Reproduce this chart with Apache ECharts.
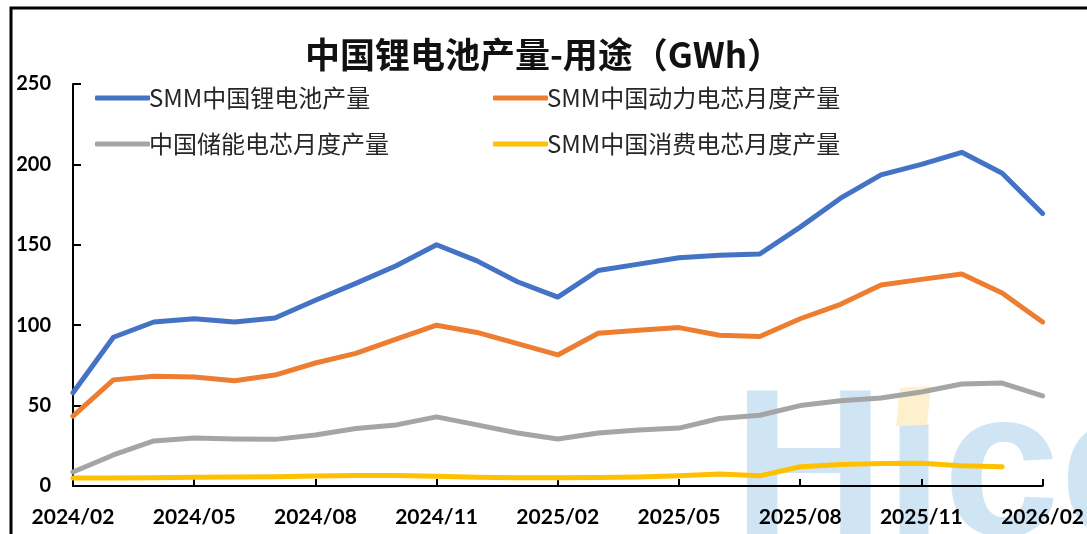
<!DOCTYPE html>
<html>
<head>
<meta charset="utf-8">
<title>中国锂电池产量-用途（GWh）</title>
<script src="https://cdn.jsdelivr.net/npm/echarts@6/dist/echarts.min.js"></script>
<style>
  html, body { margin: 0; padding: 0; background: #ffffff; }
  #chart { width: 1087px; height: 534px; }
</style>
</head>
<body>
<div id="chart"></div>
<script>
// Monthly lithium battery output in China by application, GWh
const months = [
  '2024/02', '2024/03', '2024/04', '2024/05', '2024/06', '2024/07', '2024/08', '2024/09',
  '2024/10', '2024/11', '2024/12', '2025/01', '2025/02', '2025/03', '2025/04', '2025/05',
  '2025/06', '2025/07', '2025/08', '2025/09', '2025/10', '2025/11', '2025/12', '2026/01', '2026/02'
];
const totalOutput = [58, 92.5, 102, 104, 102, 104.5, 115.5, 126, 137, 150, 140, 127, 117.5,
  134, 138, 142, 143.5, 144.3, 161, 179, 193.5, 200, 207.5, 194.5, 169.5];
const powerCells = [43.5, 66, 68.3, 67.8, 65.5, 69, 76.5, 82.5, 91.3, 100, 95.5, 88.5, 81.5,
  95, 96.8, 98.5, 93.8, 93, 104, 113, 125, 128.5, 131.8, 120, 102];
const storageCells = [8.7, 19.3, 28, 29.8, 29.2, 29, 31.7, 35.8, 38, 43, 38, 33, 29.2,
  33, 34.8, 36, 42, 44, 50, 53, 54.7, 58.5, 63.4, 64, 56];
const consumerCells = [5, 5, 5.2, 5.4, 5.6, 5.8, 6.2, 6.5, 6.5, 6, 5.5, 5.2, 5.2,
  5.3, 5.6, 6.3, 7.5, 6.3, 12, 13.3, 14, 14.2, 12.6, 12, null];
const yTicks = { min: 0, max: 250, step: 50 };

const seriesNames = ['SMM中国锂电池产量', 'SMM中国动力电芯月度产量', '中国储能电芯月度产量', 'SMM中国消费电芯月度产量'];
const seriesColors = ['#4472C4', '#ED7D31', '#A5A5A5', '#FFC000'];
const seriesData = [totalOutput, powerCells, storageCells, consumerCells];

const cjk = '"Noto Sans CJK SC", "Noto Sans", sans-serif';
const num = 'Lato, "Liberation Sans", sans-serif';

const chart = echarts.init(document.getElementById('chart'), null, { renderer: 'canvas' });

const legendCommon = {
  orient: 'vertical',
  icon: 'roundRect',
  itemWidth: 55,
  itemHeight: 5,
  itemGap: 22,
  textStyle: { fontFamily: cjk, fontSize: 24, color: '#262626', padding: [0, 0, 0, -6] },
  top: 81
};

chart.setOption({
  animation: false,
  backgroundColor: '#ffffff',
  title: {
    text: '中国锂电池产量-用途（GWh）',
    left: 'center',
    top: 32,
    textStyle: { fontFamily: cjk, fontSize: 35, fontWeight: 'bold', color: '#111111' }
  },
  legend: [
    Object.assign({}, legendCommon, { left: 90, data: [seriesNames[0], seriesNames[2]] }),
    Object.assign({}, legendCommon, { left: 488, data: [seriesNames[1], seriesNames[3]] })
  ],
  grid: { left: 73, right: 42, top: 84, bottom: 48 },
  xAxis: {
    type: 'category',
    data: months,
    boundaryGap: false,
    axisLine: { lineStyle: { color: '#000000', width: 2 } },
    axisTick: { inside: true, length: 7, interval: 2, lineStyle: { color: '#000000', width: 2 } },
    axisLabel: {
      interval: 2, margin: 21,
      fontFamily: num, fontSize: 21, fontWeight: 'bold', color: '#000000'
    },
    splitLine: { show: false }
  },
  yAxis: {
    type: 'value',
    min: yTicks.min, max: yTicks.max, interval: yTicks.step,
    axisLine: { show: true, lineStyle: { color: '#000000', width: 2 } },
    axisTick: { show: true, inside: true, length: 8, lineStyle: { color: '#000000', width: 2 } },
    axisLabel: { margin: 22, fontFamily: num, fontSize: 20, fontWeight: 'bold', color: '#000000' },
    splitLine: { show: false }
  },
  graphic: [
    {
      type: 'rect', z: 100, silent: true,
      shape: { x: 11, y: 8, width: 1200, height: 700 },
      style: { fill: 'none', stroke: '#000000', lineWidth: 3 }
    },
    {
      // brand mark behind the plot
      type: 'text', z: 0, silent: true,
      x: 733, y: 582,
      style: {
        text: 'Hıce',
        fontSize: 210,
        fontWeight: 'bold',
        fontFamily: 'Liberation Sans, Arial, sans-serif',
        fill: '#cfe5f3',
        verticalAlign: 'bottom',
        align: 'left'
      }
    },
    {
      type: 'polygon', z: 1, silent: true,
      shape: { points: [[900, 388], [931, 386], [927, 425], [896, 426]] },
      style: { fill: '#fdf1cd' }
    }
  ],
  series: seriesNames.map((name, i) => ({
    name: name,
    type: 'line',
    data: seriesData[i],
    symbol: 'none',
    smooth: false,
    connectNulls: false,
    z: 3,
    color: seriesColors[i],
    lineStyle: { width: 5, color: seriesColors[i], cap: 'round', join: 'round' }
  }))
});
</script>
</body>
</html>
